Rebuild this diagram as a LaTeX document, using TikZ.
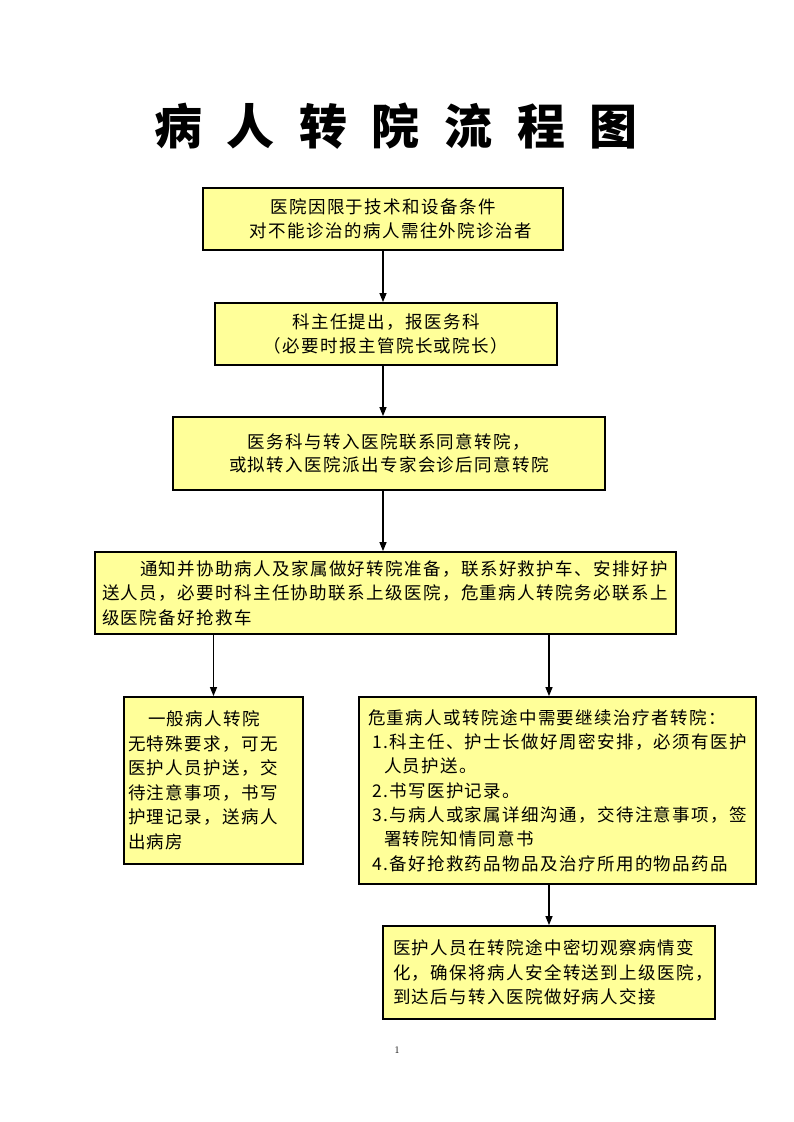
\documentclass[tikz,border=0pt]{standalone}
\usepackage{fontspec}
\usetikzlibrary{arrows.meta}
\newfontfamily\cjk[LetterSpace=8]{Noto Sans CJK SC}
\newfontfamily\cjktitle{Noto Sans CJK SC}
\definecolor{boxyellow}{HTML}{FFFF99}
\tikzset{
  box/.style={draw=black, line width=1.8pt, fill=boxyellow, inner ysep=0pt,
    font=\cjk\fontsize{17.5}{23.5}\selectfont},
  cbox/.style={box, align=center},
  lbox/.style={box, align=left, font=\cjk\fontsize{17.5}{24.5}\selectfont},
  arr/.style={-{Triangle[length=9pt,width=7pt]}, line width=1.2pt, black}
}
\begin{document}
\begin{tikzpicture}[x=1pt,y=-1pt]
\useasboundingbox (0,0) rectangle (793,1122);
% title
\node[font=\cjktitle\bfseries\fontsize{48}{48}\selectfont, inner sep=0pt] (title) at (396,126)
  {病\hspace{24.6pt}人\hspace{24.6pt}转\hspace{24.6pt}院\hspace{24.6pt}流\hspace{24.6pt}程\hspace{24.6pt}图};
% boxes
\node[cbox, minimum width=360pt, minimum height=62pt] (b1) at (383,219)
  {医院因限于技术和设备条件\\\hspace{16pt}对不能诊治的病人需往外院诊治者};
\node[cbox, minimum width=342pt, minimum height=62pt] (b2) at (386,334)
  {科主任提出，报医务科\\（必要时报主管院长或院长）};
\node[cbox, minimum width=432pt, minimum height=73pt] (b3) at (389,453.5)
  {医务科与转入医院联系同意转院，\\或拟转入医院派出专家会诊后同意转院};
\node[lbox, minimum width=581pt, minimum height=82pt, inner xsep=7pt, text width=567pt] (b4) at (385.5,593)
  {\hspace{38pt}通知并协助病人及家属做好转院准备，联系好救护车、安排好护\\送人员，必要时科主任协助联系上级医院，危重病人转院务必联系上\\级医院备好抢救车};
\node[lbox, minimum width=179pt, minimum height=167pt, inner xsep=4pt, text width=171pt] (b5) at (213.5,780.5)
  {\hspace{20pt}一般病人转院\\无特殊要求，可无\\医护人员护送，交\\待注意事项，书写\\护理记录，送病人\\出病房};
\node[lbox, minimum width=397pt, minimum height=187pt, inner xsep=9pt, text width=379pt, font=\cjk\fontsize{17.5}{24.3}\selectfont] (b6) at (557.5,790.5)
  {危重病人或转院途中需要继续治疗者转院：\\
   \hspace{4pt}1.科主任、护士长做好周密安排，必须有医护\\
   \hspace{16pt}人员护送。\\
   \hspace{4pt}2.书写医护记录。\\
   \hspace{4pt}3.与病人或家属详细沟通，交待注意事项，签\\
   \hspace{16pt}署转院知情同意书\\
   \hspace{4pt}4.备好抢救药品物品及治疗所用的物品药品};
\node[lbox, minimum width=332pt, minimum height=93pt, inner xsep=10pt, text width=312pt] (b7) at (549,972.5)
  {医护人员在转院途中密切观察病情变\\化，确保将病人安全转送到上级医院，\\到达后与转入医院做好病人交接};
% page number
\node[font=\fontsize{10}{10}\selectfont, inner sep=0pt] (pg) at (397,1050) {1};
% connectors
\draw[arr] (b1.south) -- (b1.south |- b2.north);
\draw[arr] (b2.south -| b1.south) -- (b1.south |- b3.north);
\draw[arr] (b3.south -| b1.south) -- (b1.south |- b4.north);
\draw[arr] (b4.south -| b5.north) -- (b5.north);
\draw[arr] (b4.south -| b7.north) -- (b6.north -| b7.north);
\draw[arr] (b6.south -| b7.north) -- (b7.north);
\end{tikzpicture}
\end{document}
